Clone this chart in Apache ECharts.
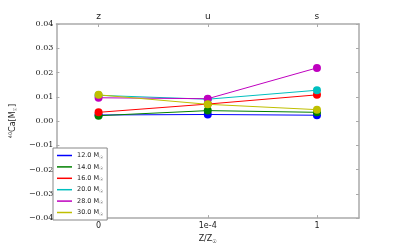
<!DOCTYPE html>
<html><head><meta charset="utf-8">
<script src="https://cdn.jsdelivr.net/npm/echarts@6/dist/echarts.min.js"></script>
<style>html,body{margin:0;padding:0;background:#fff}#c{width:399px;height:249px}</style>
</head><body><div id="c"></div>
<script>
var bottomLabels = ['0', '1e-4', '1'];
var topLabels = ['z', 'u', 's'];
var xPos = [0, 1, 2];
var masses = ['12.0', '14.0', '16.0', '20.0', '28.0', '30.0'];
var colors = ['#0000ff', '#008000', '#ff0000', '#00bfbf', '#bf00bf', '#bfbf00'];
var m12 = [0.0025, 0.0027, 0.0024];
var m14 = [0.0022, 0.0043, 0.0036];
var m16 = [0.0036, 0.0070, 0.0108];
var m20 = [0.0106, 0.0090, 0.0127];
var m28 = [0.0096, 0.0092, 0.0219];
var m30 = [0.0108, 0.0069, 0.0047];
var values = [m12, m14, m16, m20, m28, m30];

var chart = echarts.init(document.getElementById('c'));
var axisGrey = '#aaaaaa';
var series = masses.map(function (m, i) {
  return {
    name: m,
    type: 'line',
    data: values[i].map(function (v, j) { return [xPos[j], v]; }),
    symbol: 'circle',
    symbolSize: 8,
    lineStyle: { width: 1, color: colors[i] },
    itemStyle: { color: colors[i] },
    z: 2 + i
  };
});
function axLine() { return { show: true, onZero: false, lineStyle: { color: axisGrey, width: 1.5 } }; }
chart.setOption({
  animation: false,
  grid: { left: 50, right: 40, top: 24, bottom: 25 },
  xAxis: [{
    type: 'value', min: -0.386, max: 2.385, position: 'bottom',
    axisLine: axLine(),
    axisTick: { show: true, inside: true, length: 3, customValues: xPos, lineStyle: { color: axisGrey } },
    axisLabel: { customValues: xPos, formatter: function (v) { return bottomLabels[Math.round(v)]; },
      fontFamily: 'DejaVu Sans', fontSize: 8, color: '#222', margin: 4 },
    splitLine: { show: false },
    name: '{n|Z/Z}{s|☉}', nameLocation: 'middle', nameGap: 13,
    nameTextStyle: { rich: { n: { fontFamily: 'DejaVu Sans', fontSize: 8, color: '#222' },
      s: { fontFamily: 'DejaVu Sans', fontSize: 5, color: '#222', padding: [5, 0, 0, 0] } } }
  }, {
    type: 'value', min: -0.386, max: 2.385, position: 'top',
    axisLine: axLine(),
    axisTick: { show: true, inside: true, length: 3, customValues: xPos, lineStyle: { color: axisGrey } },
    axisLabel: { customValues: xPos, formatter: function (v) { return topLabels[Math.round(v)]; },
      fontFamily: 'DejaVu Sans', fontSize: 9, color: '#222', margin: 3 },
    splitLine: { show: false }
  }],
  yAxis: [{
    type: 'value', min: -0.04, max: 0.04, interval: 0.01, position: 'left',
    axisLine: axLine(),
    axisTick: { show: true, inside: true, length: 3, lineStyle: { color: axisGrey } },
    axisLabel: { formatter: function (v) { return (v < 0 ? '\u2212' : '') + Math.abs(v).toFixed(2); },
      fontFamily: 'DejaVu Serif', fontSize: 8, color: '#222', margin: 3 },
    splitLine: { show: false },
    name: '{p|40}{n|Ca[M}{s|☉}{n|]}', nameLocation: 'middle', nameRotate: 90, nameGap: 37,
    nameTextStyle: { rich: {
      p: { fontFamily: 'DejaVu Sans', fontSize: 5, color: '#222', padding: [0, 0, 5, 0] },
      n: { fontFamily: 'DejaVu Sans', fontSize: 8, color: '#222' },
      s: { fontFamily: 'DejaVu Sans', fontSize: 5, color: '#222', padding: [5, 0, 0, 0] } } }
  }, {
    type: 'value', min: -0.04, max: 0.04, interval: 0.01, position: 'right',
    axisLine: axLine(),
    axisTick: { show: true, inside: true, length: 3, lineStyle: { color: axisGrey } },
    axisLabel: { show: false },
    splitLine: { show: false }
  }],
  legend: {
    orient: 'vertical', left: 53, top: 148,
    itemWidth: 15, itemHeight: 1.5, itemGap: 3.4,
    padding: [4, 4, 3, 4],
    borderColor: '#888', borderWidth: 1, backgroundColor: '#fff',
    icon: 'rect',
    data: masses,
    formatter: function (n) { return '{a|' + n + ' M}{b|☉}'; },
    textStyle: { rich: {
      a: { fontFamily: 'DejaVu Sans', fontSize: 6.5, color: '#222' },
      b: { fontFamily: 'DejaVu Sans', fontSize: 4.5, color: '#222', padding: [4, 0, 0, 0] } } }
  },
  series: series
});
</script></body></html>
